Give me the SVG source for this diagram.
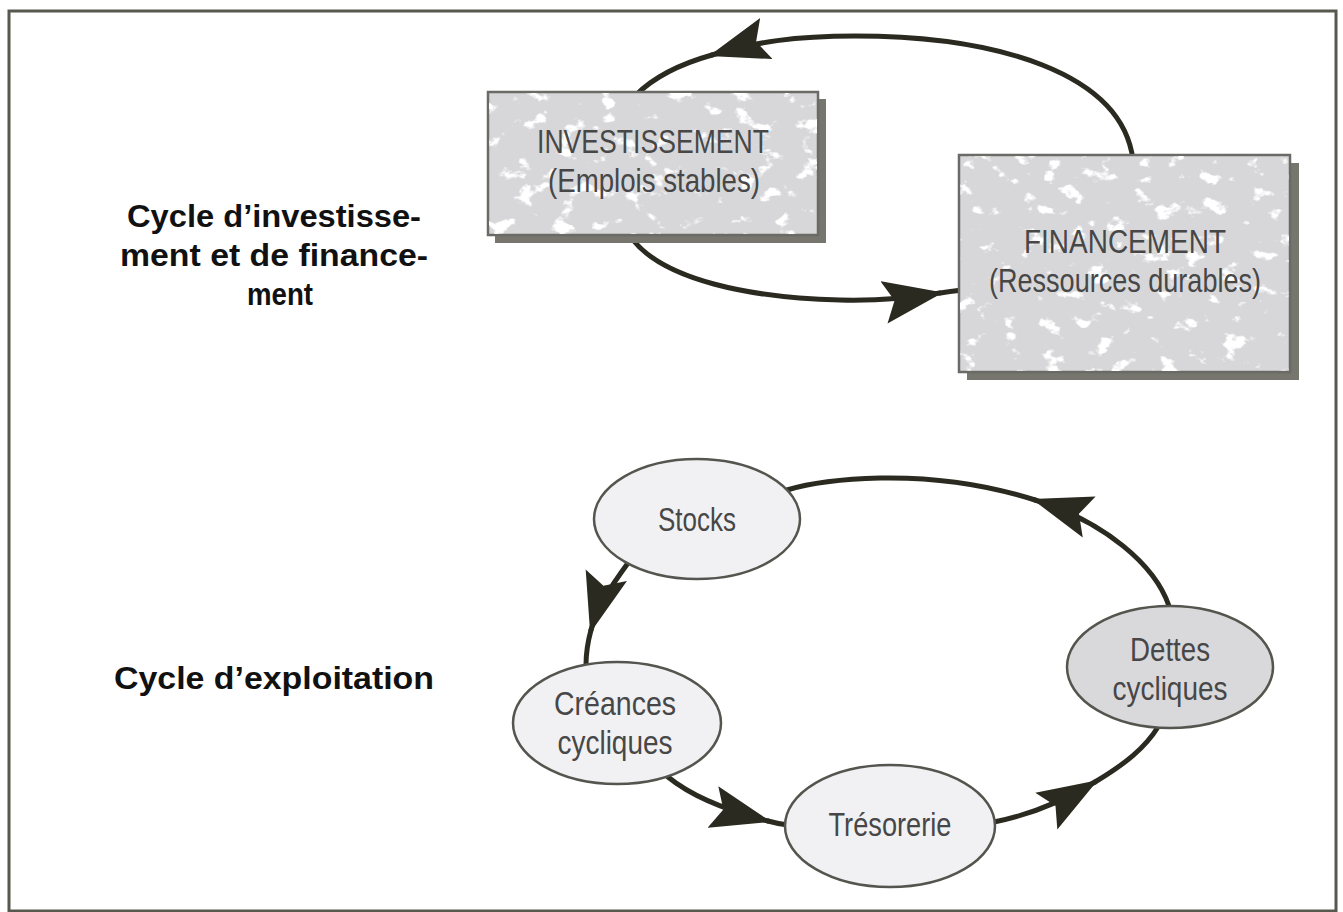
<svg xmlns="http://www.w3.org/2000/svg" width="1343" height="912" viewBox="0 0 1343 912">
<style>
.frame{fill:none;stroke:#58584f;stroke-width:3}
.box{fill:#d7d7da;stroke:#6a6a66;stroke-width:2.5}
.shadow{fill:#76766f}
.ell{fill:#f1f1f3;stroke:#55554f;stroke-width:2.5}
.ell2{fill:#d9d9dc;stroke:#55554f;stroke-width:2.5}
.conn{fill:none;stroke:#2a2a20;stroke-width:5;stroke-linecap:round}
.t{font-family:"Liberation Sans Narrow","Liberation Sans","DejaVu Sans",sans-serif;fill:#474747;text-anchor:middle;font-size:33px}
.lbl{font-family:"Liberation Sans","DejaVu Sans",sans-serif;font-weight:bold;fill:#111;text-anchor:middle;font-size:31px}
</style>
<defs>
<marker id="dart" markerUnits="userSpaceOnUse" markerWidth="60" markerHeight="44" viewBox="0 0 56 40" refX="53" refY="20" orient="auto">
<path d="M56,20 L0,0 L10,20 L0,40 Z" fill="#2a2a20"/>
</marker>
<filter id="speck" x="0" y="0" width="1" height="1">
<feTurbulence type="fractalNoise" baseFrequency="0.045 0.06" numOctaves="4" seed="7" result="n"/>
<feColorMatrix in="n" type="matrix" values="0 0 0 0 1  0 0 0 0 1  0 0 0 0 1  10 0 0 0 -6.1" result="w"/>
<feComposite in="w" in2="SourceGraphic" operator="in"/>
</filter>
</defs>
<rect class="frame" x="9" y="11" width="1327" height="900"/>

<g id="connectors">
<path class="conn" d="M1133,160 C1122,72 995,36 855,36 C795,36 755,42 712,55" marker-end="url(#dart)"/>
<path class="conn" d="M712,55 C680,64 655,76 636,95"/>
<path class="conn" d="M633,240 C665,280 750,298 840,300 C880,301 910,298 940,293" marker-end="url(#dart)"/>
<path class="conn" d="M940,293 C947,292 953,291 962,290"/>
<path class="conn" d="M628,563 C612,585 598,605 591,630" marker-end="url(#dart)"/>
<path class="conn" d="M591,630 C588,641 586,652 586,665"/>
<path class="conn" d="M668,777 C690,795 725,810 768,821" marker-end="url(#dart)"/>
<path class="conn" d="M768,821 C775,823 780,824 788,825"/>
<path class="conn" d="M994,822 C1030,815 1065,800 1095,782" marker-end="url(#dart)"/>
<path class="conn" d="M1095,782 C1125,764 1145,748 1158,727"/>
<path class="conn" d="M1169,606 C1155,565 1105,522 1035,500" marker-end="url(#dart)"/>
<path class="conn" d="M1035,500 C985,484 930,477 880,478 C840,479 810,483 787,490"/>
</g>

<g id="lbl-invest">
<text class="lbl" x="274" y="227" textLength="294" lengthAdjust="spacingAndGlyphs">Cycle d’investisse-</text>
<text class="lbl" x="274" y="266" textLength="308" lengthAdjust="spacingAndGlyphs">ment et de finance-</text>
<text class="lbl" x="280" y="305" textLength="66" lengthAdjust="spacingAndGlyphs">ment</text>
</g>
<g id="lbl-exploit">
<text class="lbl" x="274" y="689" textLength="320" lengthAdjust="spacingAndGlyphs">Cycle d’exploitation</text>
</g>

<g id="node-investissement">
<rect class="shadow" x="495" y="99" width="331" height="144"/>
<rect class="box" x="488" y="92" width="330" height="143"/>
<rect x="489" y="93" width="328" height="141" fill="#fff" filter="url(#speck)"/>
<text class="t" x="653" y="153" textLength="232" lengthAdjust="spacingAndGlyphs">INVESTISSEMENT</text>
<text class="t" x="654" y="192" textLength="212" lengthAdjust="spacingAndGlyphs">(Emplois stables)</text>
</g>

<g id="node-financement">
<rect class="shadow" x="967" y="163" width="332" height="217"/>
<rect class="box" x="959" y="155" width="331" height="217"/>
<rect x="960" y="156" width="329" height="215" fill="#fff" filter="url(#speck)"/>
<text class="t" x="1125" y="253" textLength="202" lengthAdjust="spacingAndGlyphs">FINANCEMENT</text>
<text class="t" x="1125" y="292" textLength="272" lengthAdjust="spacingAndGlyphs">(Ressources durables)</text>
</g>

<g id="node-stocks">
<ellipse class="ell" cx="697" cy="519" rx="103" ry="60"/>
<text class="t" x="697" y="531" textLength="78" lengthAdjust="spacingAndGlyphs">Stocks</text>
</g>

<g id="node-creances">
<ellipse class="ell" cx="617" cy="723" rx="104" ry="61"/>
<text class="t" x="615" y="715" textLength="122" lengthAdjust="spacingAndGlyphs">Créances</text>
<text class="t" x="615" y="754" textLength="115" lengthAdjust="spacingAndGlyphs">cycliques</text>
</g>

<g id="node-tresorerie">
<ellipse class="ell" cx="890" cy="826" rx="105" ry="61"/>
<text class="t" x="890" y="836" textLength="123" lengthAdjust="spacingAndGlyphs">Trésorerie</text>
</g>

<g id="node-dettes">
<ellipse class="ell2" cx="1170" cy="667" rx="103" ry="61"/>
<text class="t" x="1170" y="661" textLength="80" lengthAdjust="spacingAndGlyphs">Dettes</text>
<text class="t" x="1170" y="700" textLength="115" lengthAdjust="spacingAndGlyphs">cycliques</text>
</g>
</svg>
